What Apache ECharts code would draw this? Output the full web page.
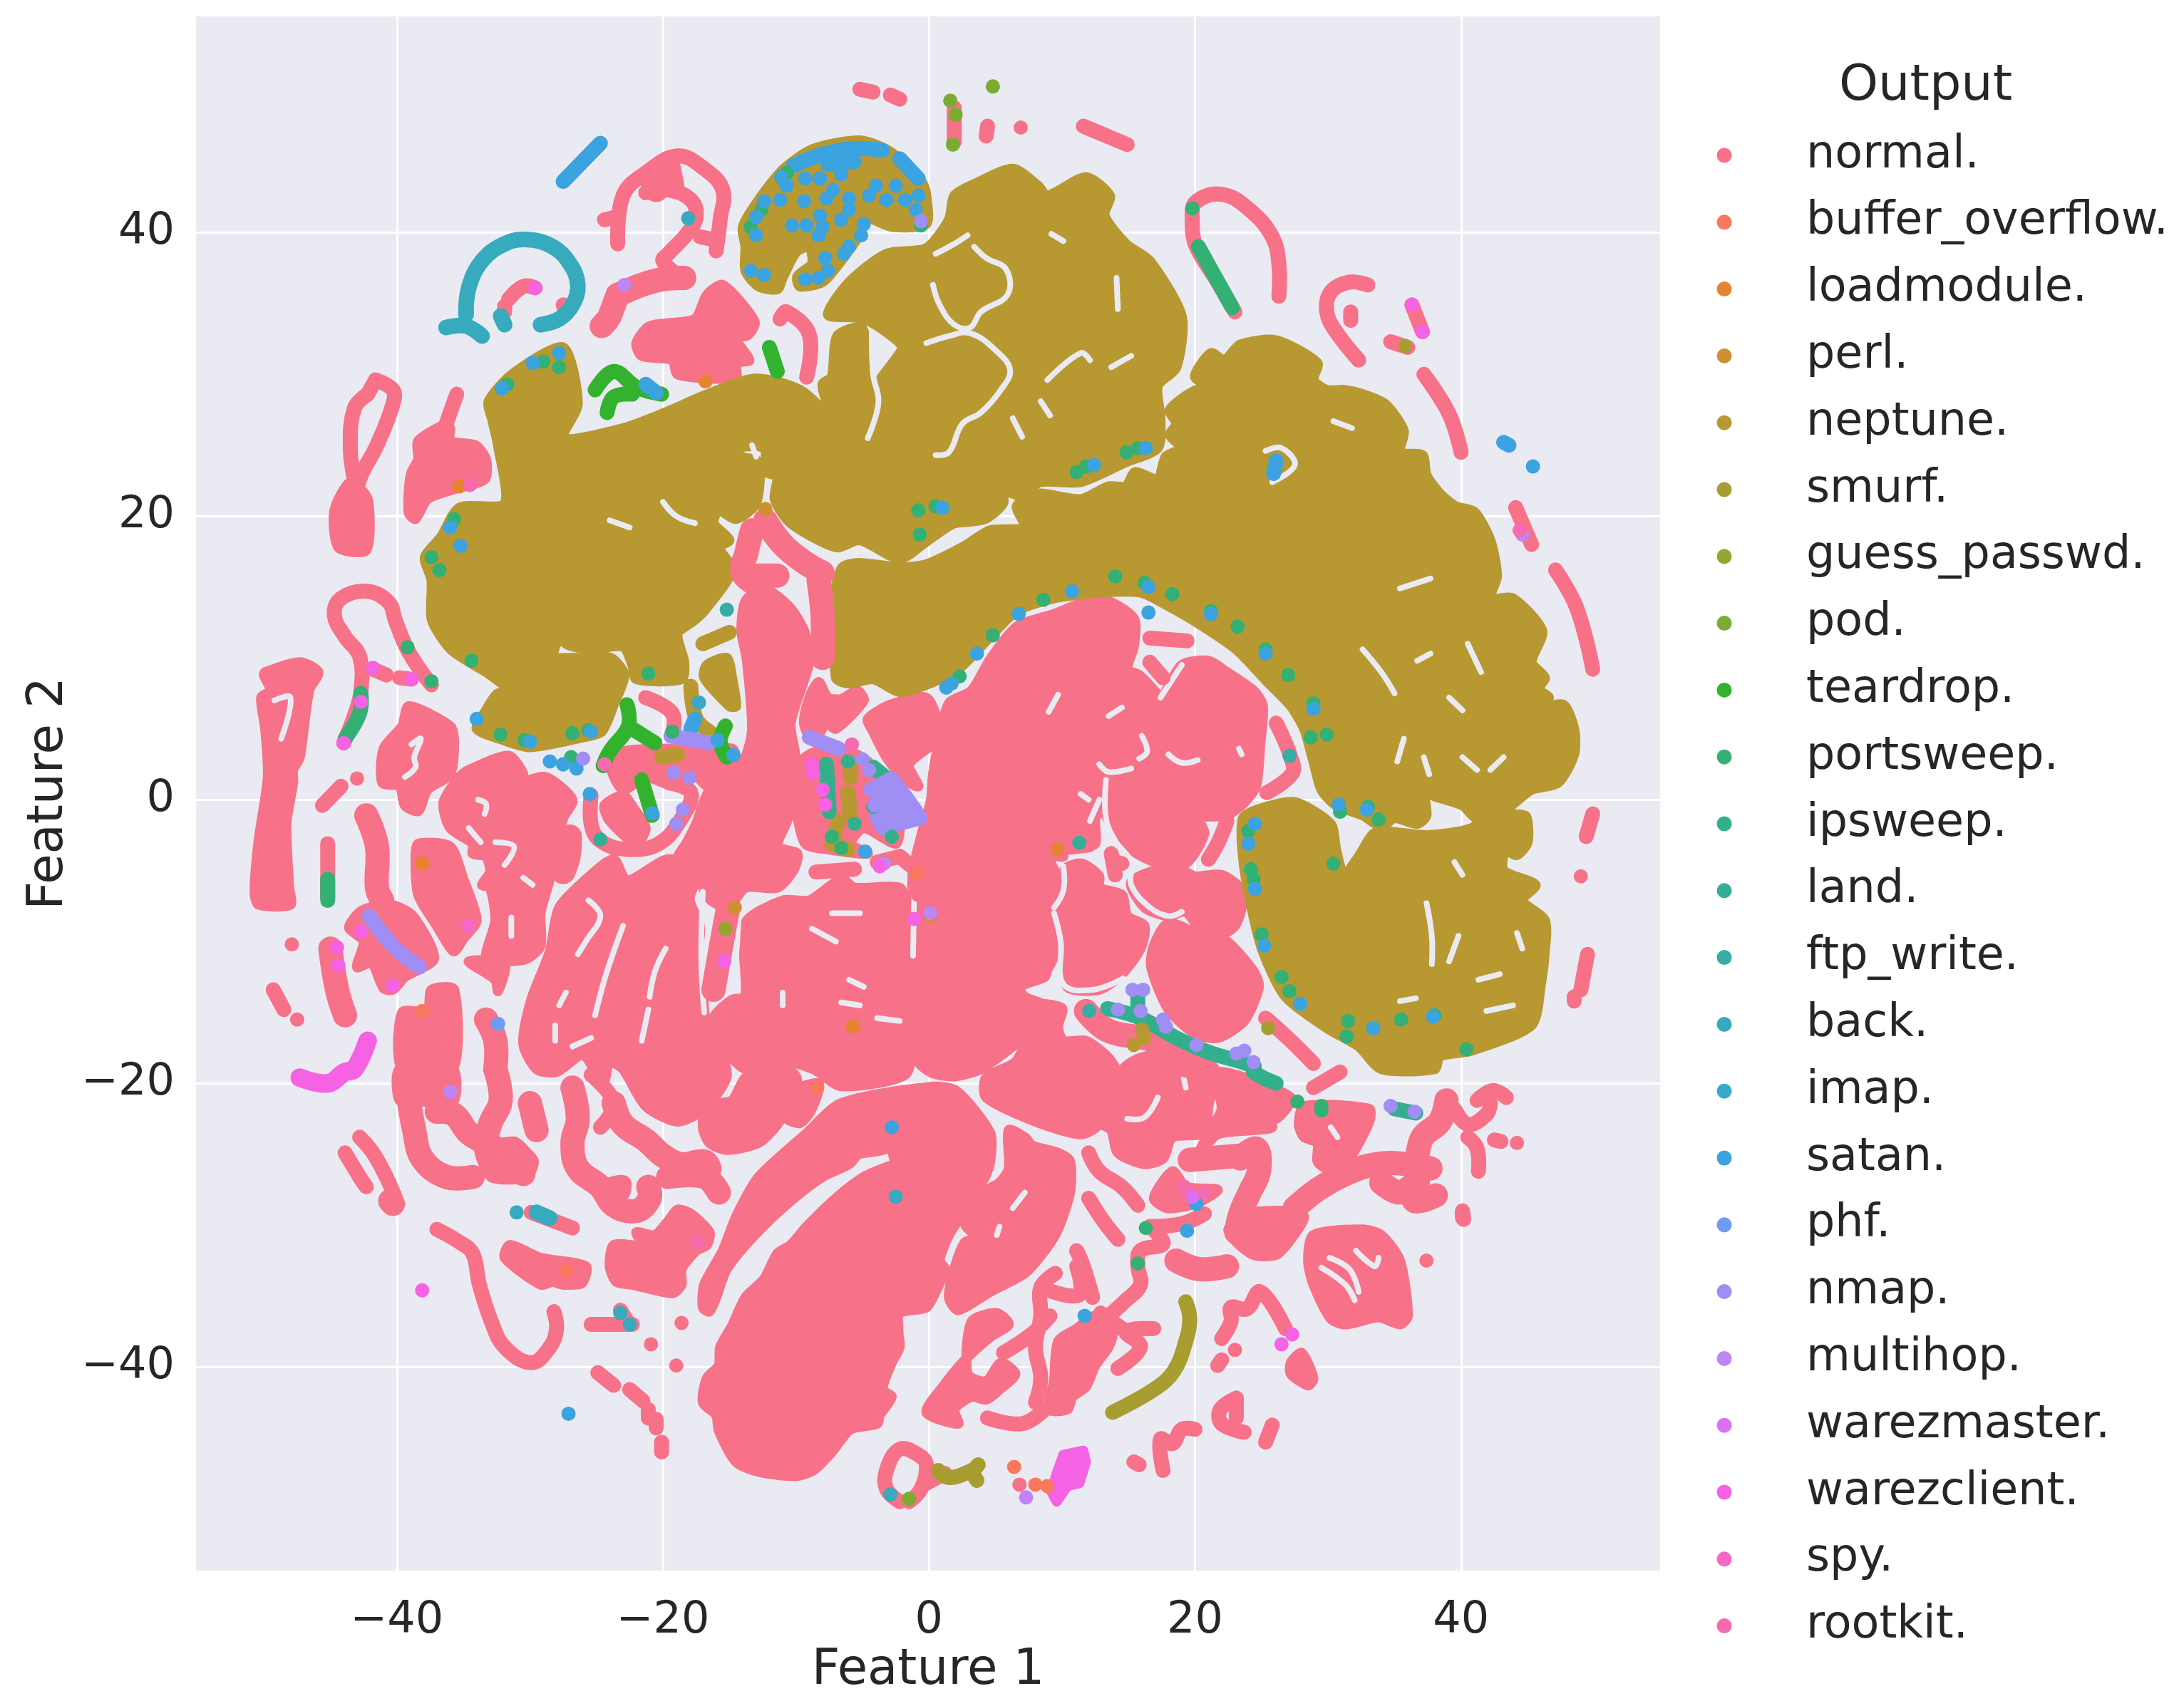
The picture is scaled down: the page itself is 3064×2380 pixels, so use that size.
<!DOCTYPE html>
<html><head><meta charset="utf-8">
<style>html,body{margin:0;padding:0;background:#fff}#c{width:3064px;height:2380px}</style>
<script src="https://cdn.jsdelivr.net/npm/echarts@6/dist/echarts.min.js"></script>
</head><body><div id="c"></div>
<script>
const categories=['normal.','buffer_overflow.','loadmodule.','perl.','neptune.','smurf.','guess_passwd.','pod.','teardrop.','portsweep.','ipsweep.','land.','ftp_write.','back.','imap.','satan.','phf.','nmap.','multihop.','warezmaster.','warezclient.','spy.','rootkit.'];
const palette=['#f77189','#f9775c','#e58432','#ce9032','#b89831','#a89d31','#97a431','#7bab31','#33b22e','#33b074','#34af8c','#35ae99','#36ada4','#38aabd','#3aa8c9','#3ba3e0','#6e9bf4','#a08ef4','#bf85f4','#dc70f4','#f562e3','#f668c8','#f66bb0'];
const xTicks=[-40,-20,0,20,40];
const yTicks=[-40,-20,0,20,40];

// neptune. cluster outlines
const neptuneRegions=[
[[-27.5,31.9],[-31.2,30.1],[-33.1,28.1],[-32.8,26.7],[-32.4,25],[-31.9,20.9],[-35.3,20.6],[-36.7,18.5],[-37.9,17.1],[-37.4,15.5],[-37.4,12.8],[-36.7,11.5],[-35.7,10.4],[-33.3,9],[-30.9,7.6],[-28.8,8.6],[-28,11],[-26.8,11.7],[-27.3,11],[-25.4,10.6],[-23,10.8],[-22.3,9.5],[-22,8.5],[-18.6,8.5],[-18.4,9.7],[-18.9,11.7],[-17.7,12.6],[-16.9,13.3],[-14.8,16.2],[-15.8,17.8],[-15,18.3],[-16.2,19.5],[-15.8,20.4],[-14.5,19.8],[-13,20.9],[-12.8,23.8],[-14.1,24.2],[-14.5,24.8],[-12.4,24.8],[-12.2,23.1],[-11.4,22.8],[-11.6,21.2],[-10.4,19.5],[-7,17.8],[-5.2,18.3],[-2.2,17],[-.2,18.2],[1.9,19.5],[4.2,19.8],[5.6,21],[5,22.5],[2,24],[-3,24],[-5,25],[-7,26.5],[-8.7,25.3],[-6.4,25.3],[-7,26.5],[-9.7,28.9],[-13.1,29.7],[-16.9,28.5],[-19.6,27.4],[-23,26.2],[-27.5,25.5],[-26.4,27.9]],
[[-3.5,21.9],[-4.6,25],[-4.4,28.5],[-2,31.8],[-2.3,32.3],[-4.2,33.6],[-5.4,34],[-7.6,34.2],[-6,36.5],[-3.2,38.5],[-.2,38.9],[1.5,40.9],[1.9,42.6],[3.6,43.5],[6.3,44.5],[8.2,43.3],[8.9,42.6],[11.8,43.9],[13.6,42.6],[13.2,41.2],[14.8,39.2],[16.6,38],[19,34.1],[18.6,30.5],[17.2,29.2],[17.4,26.9],[17.2,24.8],[14.8,23.8],[11.4,22.4],[8.4,22.4],[6.6,21.5],[5,22.2],[5.6,21],[4.2,19.8],[1.9,19.5],[-.2,19],[-2.2,20.5]],
[[-6.9,32.7],[-5.1,33.3],[-4.6,31.7],[-4.6,29.3],[-4,28.1],[-5.1,26.2],[-5.4,25.2],[-6.4,26.4],[-7.6,27.9],[-8,29.3],[-7.3,29.8]],
[[-7,14.9],[-7,8.6],[-6,8.2],[-4.2,8.5],[-2.2,7.6],[-.2,8.1],[2.2,9.2],[4.6,11.5],[6.6,13.3],[9.4,14.2],[12.8,14.6],[15.9,14.6],[17.9,13.7],[20.3,12.4],[23.1,10.6],[25.4,8.35],[27.2,6.6],[28.2,5],[28.9,2.7],[29.5,.7],[30.6,-.4],[32.6,-1.1],[34,-1.9],[35,-1.3],[36.7,-1.7],[37.4,-1.1],[37.2,.7],[37.8,.3],[40.1,-.4],[41.2,-1.3],[43.6,-.5],[45.3,.7],[47.3,1.2],[48.5,3.2],[48.5,5],[47.7,6.7],[46,6.5],[46.6,7.2],[45.8,7.8],[46.3,8.6],[45.3,9.7],[46.1,11.9],[43.9,14.2],[42.2,14.2],[42.7,15.75],[42.2,18.3],[41,20.3],[39.6,20.7],[38.4,21.6],[37.4,22.9],[37.1,24.3],[35.4,24.5],[35.7,26],[34.3,27.9],[32.6,28.6],[31.2,28.9],[29.9,28.9],[28.9,29.6],[29.2,30.8],[26.1,32.4],[23.4,32.1],[22.2,31],[21.2,31.5],[20,29.8],[21.7,28.9],[20.1,28.9],[18.1,27.5],[18.6,26.5],[18.1,25.7],[19,24.8],[17.8,24.2],[17.2,22.6],[15.5,23.1],[14.8,22.1],[13.5,22.1],[11.4,21.2],[8,21.6],[6.6,20.7],[7.2,19.2],[4.6,19],[2.5,17.8],[-.2,16.6],[-2.2,16.4],[-5.3,16.7],[-6.5,16.4]],
[[23.6,-1.3],[25,-.6],[27.5,-.17],[30.2,-1.7],[30.6,-3.5],[31.2,-5.3],[32.3,-4],[33.6,-2.3],[37.4,-2.5],[40.8,-2],[42.5,-.6],[44,-1],[44.9,-1.2],[45,-3],[44.2,-3.9],[43.3,-3.6],[43.2,-5],[45.6,-6],[44.6,-7.1],[46.3,-8.5],[46.3,-10.7],[46,-13],[45.3,-15.9],[40.8,-17.7],[38.4,-18.1],[38,-19],[34,-19],[32.3,-17.4],[29.9,-16.1],[26.8,-13.9],[25.1,-10.7],[24.2,-7.4],[23.6,-4]],
[[-32.4,7.5],[-33.3,6.3],[-34,5],[-32,4.2],[-30,3.7],[-26,4.4],[-24.6,4.8],[-23.7,6.7],[-22.9,8.8],[-23.9,10],[-25.7,10],[-28.9,9.8],[-28.9,8.3],[-30.9,7.4]],
[[-16.7,9.5],[-15.2,10],[-14.8,8.6],[-14.5,6.6],[-15,6.6],[-16.9,8.6]]
];
// narrow empty cracks inside the dense clusters
const clusterCracks=[
[[-4.3,33],[-4.2,30],[-3.8,28],[-4.6,25.5]],
[[.5,38.5],[1.9,39.2],[2.9,39.8]],
[[3.4,39],[4.3,38.2],[5.8,37.4],[5.9,35.6],[3.9,34.4],[3.1,33.3],[1.9,33.5],[.8,34.9],[.3,36.3]],
[[-.2,32.2],[1.5,32.7],[3.1,32.9],[5,31.7],[6.1,30.3],[5.4,28.9],[3.9,27.3],[2.5,26.5],[1.5,24.5],[.5,24.3]],
[[6.3,26.9],[7,25.6]],[[8.4,28.1],[9.1,27.1]],[[8.9,29.6],[11.4,31.5],[12.1,31]],[[13.7,30.5],[15.2,31.3]],[[14.1,36.8],[14.2,34.6]],[[9.2,39.9],[10.1,39.4]],
[[25.3,24.6],[26.5,24.8],[27.5,23.6],[25.8,22.4]],[[30.4,26.7],[31.8,26.2]],
[[32.6,10.6],[34,9],[35,7.5]],[[35.7,4.3],[35.2,2.7]],[[39.1,7.2],[40.1,6.3]],[[40.5,11],[41.5,9]],[[36.7,9.8],[37.7,10.3]],[[35.4,14.9],[37.7,15.6]],[[40.1,3],[41.2,2.1]],[[43.2,3],[42.2,2.1]],[[37.2,3],[37.6,1.8]],
[[37.4,-7.3],[37.8,-9.6],[37.8,-11.6]],[[39.8,-9.6],[39.1,-11.4]],[[41.3,-12.7],[42.9,-12.3]],[[39.5,-4.4],[40.1,-5.3]],[[44.2,-9.4],[44.6,-10.5]],[[41.9,-14.9],[43.9,-14.5]],[[35.4,-14.2],[36.6,-14]],
[[-20,21],[-19,20],[-17.6,19.5]],[[-24,19.7],[-22.5,19.2]],[[-13.3,25],[-13,24.2]],
[[-7.3,-8],[-5.2,-8]],[[-8.8,-9.1],[-7,-10]],[[-6,-12.7],[-4.9,-13.2]],[[-6.6,-14.3],[-5.2,-14.5]],[[-11,-13.6],[-11,-14.5]],[[-3.9,-15.4],[-2.2,-15.6]],
[[-25.6,-7.1],[-24.7,-8.2],[-25.8,-10],[-26.4,-10.9]],[[-23,-8.9],[-23.7,-10.7],[-24.4,-12.7],[-25.1,-15.2]],[[-19.8,-10.5],[-20.6,-12.1],[-21,-13.9]],[[-21.1,-14.8],[-21.6,-17]],[[-27.3,-13.6],[-27.8,-14.5]],[[-28.1,-15.9],[-28.1,-17]],[[-25.4,-16.8],[-26.8,-17.4]],
[[-1.1,-6],[-1.2,-11]],[[-17,-6.5],[-17.1,-9],[-17.1,-12],[-16.9,-15]],[[-14.3,-8],[-14.5,-11],[-14.8,-13.5]],
[[14.9,-22.5],[16.2,-22.4],[17.2,-21]],[[19.1,-19.4],[19.3,-20.3]],[[30.2,-23.1],[30.7,-23.8]],
[[30.1,-32.3],[31.6,-33.1],[32.3,-34.7]],[[29.5,-33],[31.3,-34.2],[32,-35.3]],[[32.1,-31.8],[33.5,-32.9],[33.8,-32.3]],
[[5.3,-30.1],[5.1,-30.7]],[[6.3,-28.8],[7.2,-27.7]],
[[-49.2,7],[-48,7.2],[-48.7,4.3]],[[-38.9,3.9],[-38.2,4.3],[-38.7,3],[-38.6,2.3],[-39.4,1.6]],
[[-33.9,0],[-33.3,-.3],[-33.4,-1]],[[-34.6,-2],[-33.7,-3]],[[-32.6,-3],[-31.2,-3.3],[-31.9,-4.6]],[[-30.5,-5.5],[-29.8,-6]],[[-31.4,-8.3],[-31.4,-9.6]],
[[12.8,2.5],[13.5,1.96],[15.2,2.2]],[[13.3,1.4],[13.3,-1.3],[14,-2.9],[15.2,-4.4],[15.2,-6],[16.6,-7.6],[18,-8.2],[19,-7.9]],
[[12.8,0],[12.1,-1.5]],[[9.4,-8],[9.9,-10],[10.1,-13],[12.3,-13.4],[14.6,-12.6]],[[10.1,-4.7],[10.1,-6.4],[9.4,-7.6]],[[19,9.5],[17.4,7.2]],[[13.5,5.9],[14.5,6.5]],[[9,6.2],[9.7,7.4]],[[11.4,.4],[12,0]],[[23.3,3.6],[23.5,3.2]],[[16,4.5],[16.4,3.4],[15.8,2.9]],[[18,3.2],[19,2.6],[20.2,2.8]]
];
// normal. cluster outlines
const normalRegions=[
[[1.5,6.8],[3.2,7.7],[4.6,9.9],[6.6,12.2],[9.4,13.1],[12.8,14.2],[15.4,12.8],[15.4,10.8],[14.9,9.2],[15.8,8.8],[17.2,7.4],[17.4,7],[19,9.5],[21,9.8],[22.4,9],[24.4,7.7],[25.1,6.6],[24.9,3.9],[24.6,1],[23.7,-.2],[22.4,-1.1],[20.3,-1.3],[20.7,-2.4],[19.3,-4.5],[17,-4.4],[15.2,-3.5],[13.3,-1.1],[13.3,1.4],[14.2,2.1],[12.8,2.5],[13.1,0],[12.5,-1.3],[12.5,-3.1],[11.4,-3.3],[9.7,-3.5],[10.1,-4],[9,-4],[10.1,-6.4],[9.4,-7.6],[9.9,-10],[8.9,-12],[8.7,-12.5],[6.8,-13.2],[7.2,-13.9],[8.4,-14.4],[7.2,-15.2],[7,-16.8],[6.3,-17.4],[3.9,-19],[2,-19.5],[.3,-19.3],[-.8,-18.5],[-1,-17],[-.8,-14],[-1.5,-11],[-1.3,-8],[-1.2,-5],[-.6,-2.6],[.15,0],[.3,1.8],[.8,4.3]],
[[-4.6,5.7],[-2.9,6.7],[-.2,7.2],[.8,5],[.5,4.1],[-1.5,2.5],[-.8,.95],[-1.8,1.4],[-3.2,3],[-4.2,4.8]],
[[10.4,-6.5],[10.2,-4.9],[11.5,-4.5],[12.8,-5.4],[12.8,-6.2],[14.5,-6.7],[14.9,-8.2],[16.2,-8.9],[15.9,-10.5],[14.5,-12.3],[12.8,-13.4],[10.4,-13.2],[10.1,-10.3],[9.7,-8.5]],
[[15.2,-5.8],[18.3,-4.7],[20,-5.4],[22,-5.3],[23.6,-6.5],[23,-8.9],[21,-9.8],[19.3,-7.9],[18,-8.2],[16.2,-7.6]],
[[18,-8.7],[21,-9.8],[22.4,-10],[24.4,-12.1],[24.8,-13.2],[23.7,-15.6],[21.7,-16.8],[20,-16.5],[18,-14.8],[16.7,-11.8],[16.9,-10.3]],
[[7.7,-14.5],[10,-14.7],[9.7,-16],[10.1,-17],[11.8,-17],[13.5,-18.2],[14.3,-19.5],[14.2,-20.5],[12.8,-22.9],[11.4,-23.6],[8,-22.7],[4.3,-21],[4.3,-19.6],[6.5,-18.5],[7.4,-16.7]],
[[15.9,-18.2],[18.5,-17.8],[20,-18.4],[21.3,-19.9],[21,-21.6],[20.7,-23.5],[18.3,-23.8],[17.6,-25.3],[16.2,-25.7],[14.2,-24.9],[13.7,-23.3],[12.8,-22.7],[14.2,-21],[14.6,-19]],
[[21.7,-19.2],[27.2,-21],[26.1,-22.5],[25.3,-22],[25.8,-23.1],[24.4,-23.3],[21.7,-23.6],[20.3,-24.9],[21.3,-23.1],[22,-21.8]],
[[28.2,-21.6],[33.1,-21.8],[33.1,-22.7],[31.9,-24.9],[31.4,-25.3],[29.9,-26],[29.2,-25.5],[29.2,-24.2],[28.2,-23.8],[27.8,-22.9]],
[[23.7,-29.2],[26.8,-29],[28.2,-29.4],[27.2,-31],[26.1,-32.1],[24.4,-32.1],[23.1,-31.2],[22.5,-30.3]],
[[28.9,-30.7],[32.6,-30.3],[34,-30.7],[35.4,-32.5],[36,-36.4],[35.4,-37],[33.8,-36.5],[31.3,-37],[30.2,-36.6],[28.9,-34.2],[28.5,-32.5]],
[[6,-23.3],[7.2,-23.8],[7.8,-24.4],[9.7,-24.9],[10.6,-25.5],[10.6,-27.7],[9.7,-30.3],[8.7,-31.8],[7.2,-33.4],[4.6,-34.7],[2.2,-36],[1.5,-35.1],[1.9,-33.1],[2.7,-31.2],[3.6,-30.9],[2.7,-29.9],[3.7,-27.9],[5.3,-27],[6,-26]],
[[18.3,-26.2],[19.3,-27.3],[21.7,-27.5],[20.7,-28.2],[19.6,-28.6],[17.9,-28.8],[16.9,-28.1]],
[[9.7,-38.2],[11.1,-37.3],[12.5,-36.4],[13.8,-37.5],[13.5,-38.6],[12.5,-39.9],[11.8,-41.4],[10.8,-42.1],[10.4,-43],[9,-43],[9.4,-41]],
[[3.2,-36.8],[5.1,-36.2],[6,-37],[4.6,-37.9],[2.5,-39.7],[1.2,-41.2],[-.2,-43.2],[2.2,-44],[1.9,-43],[3.2,-42.1],[4.3,-42.3],[5.3,-41.6],[6.5,-40.5],[5.4,-39.7],[4.3,-41],[2.9,-40.5]],
[[27.2,-39.7],[28,-39],[28.9,-40.8],[28.5,-41.3],[27.2,-40.5]],
[[-.2,-20.3],[-6.6,-21.4],[-9.3,-23.6],[-12.8,-26.6],[-14.5,-29.4],[-15.5,-31.8],[-16.9,-34.2],[-17,-35.8],[-16.5,-36.1],[-16,-35.1],[-15.2,-33.1],[-13.1,-30.7],[-10.4,-28.3],[-8,-26.6],[-6,-25.7],[-5.3,-25],[-3.2,-24.6],[-2.2,-22.9],[-2.1,-21.5],[-.2,-21]],
[[-.2,-20.3],[2,-20.5],[4.6,-23.5],[4.6,-25.5],[4.1,-26.8],[3.2,-27.5],[2.9,-28.6],[1.5,-30.7],[.8,-32.5],[1.2,-33.1],[.5,-34.7],[-.2,-35.8],[-2.2,-36.2],[-2.3,-37.5],[-2.2,-38.6],[-2.8,-39.7],[-3.5,-41.6],[-2.8,-42.1],[-3.7,-43.4],[-3.9,-44],[-5.9,-44.4],[-7.3,-46],[-8.7,-47.3],[-10,-47.7],[-12.8,-47.4],[-14.5,-46.7],[-15.8,-44.5],[-16,-43.4],[-17,-42.5],[-16.7,-40.8],[-15.8,-39.9],[-15.7,-38.6],[-14.8,-37.1],[-13.8,-35.1],[-12.4,-33.8],[-11.4,-32],[-10.4,-31.4],[-9.2,-30.1],[-7,-28.1],[-4.9,-26.6],[-2.9,-25.8],[-2.5,-25.7],[-2.7,-24.9],[-1.8,-23.3],[-1.6,-21.5]],
[[-13.8,14],[-12.4,14.9],[-10.4,13.5],[-9.3,11.7],[-9,9.7],[-10.4,5.4],[-10,2.5],[-11,1.6],[-10.5,-1],[-11.4,-3.3],[-9.9,-3.8],[-10.2,-5],[-11.4,-6.2],[-13.8,-6.2],[-15.1,-7.6],[-16.5,-7],[-17.5,-5.3],[-18.9,-4.2],[-18.2,-3],[-17.5,-1.7],[-16.5,.7],[-14.8,1.8],[-13.8,3],[-13.3,5],[-13.7,9.9],[-14.1,11.9]],
[[-27.8,-7.6],[-25.4,-5.3],[-23.7,-4.2],[-22.7,-5.7],[-19.6,-4.2],[-17.5,-5.3],[-18,-7],[-17.2,-9],[-17.4,-11],[-17,-13.5],[-16.8,-15.5],[-16,-17],[-15.2,-19.5],[-16.9,-21.8],[-18.9,-22.7],[-21.3,-21.6],[-23,-19],[-24,-18.5],[-24.5,-20],[-26,-18],[-28,-19.2],[-29.5,-19],[-30.5,-17.2],[-29.9,-14.1],[-28.5,-10.7]],
[[-13.8,-8.7],[-11,-7.1],[-9,-7.1],[-6.6,-5.6],[-5.6,-6.2],[-2.2,-6.2],[-1.8,-7.4],[-1.8,-9.8],[-1.5,-11.8],[-1.2,-14],[-1.2,-17],[-1.8,-19.4],[-6.6,-20.2],[-8.7,-19],[-11.5,-18.3],[-13.8,-19],[-15.8,-17],[-16.2,-15.4],[-14.8,-14.1],[-13.8,-13.9]],
[[-16.7,-21.6],[-14.8,-21.2],[-13.8,-19.6],[-11.5,-18.5],[-10,-19.5],[-10,-20.5],[-11.4,-22.9],[-12.8,-24.2],[-15.2,-24.7],[-16.5,-24.2],[-17,-23.1]],
[[-10.8,-20.8],[-8.3,-20],[-8.8,-21.8],[-9.7,-22.8],[-10.8,-22.4]],
[[-39.8,-19],[-35.8,-19],[-35.7,-21.2],[-37.4,-21.4],[-38.4,-21.2],[-39.8,-21.2]],
[[-37.4,-13.4],[-35.7,-13.4],[-35.8,-19],[-39.6,-19],[-39.6,-15],[-37.7,-14.9]],
[[-34.6,-11.4],[-32.6,-12.7],[-32.4,-13.5],[-31.9,-11.6]],
[[-38.4,-3.1],[-36,-3.3],[-35,-5.6],[-34,-8.5],[-35,-9.8],[-35.7,-10.7],[-36.3,-10],[-37,-8.9],[-38.4,-6.7],[-38.6,-4]],
[[-34.6,2.1],[-31.6,3.1],[-30.5,1.8],[-30.9,1.2],[-28.8,1.6],[-26.8,0],[-27.5,-1.3],[-28.1,-4],[-28.5,-5.6],[-29.2,-8],[-29.2,-10.3],[-30.2,-11.2],[-31.6,-11.4],[-33.3,-11.2],[-32.6,-8.5],[-33,-6.2],[-33.6,-6],[-33,-5.1],[-33.3,-4],[-34.3,-3.8],[-34.3,-3.1],[-36,-2],[-36.5,-.2],[-35.3,1.6]],
[[-39.1,6.6],[-36,5.2],[-35.7,4.1],[-36,1.8],[-37.7,.7],[-38.4,-.8],[-39.4,-.4],[-39.8,.95],[-41.1,1.2],[-41,3.6],[-39.6,5.2]],
[[-49.9,9],[-47.3,9.7],[-45.9,9],[-46.6,7.7],[-47.3,3],[-47.8,2.1],[-47.8,1.2],[-48.3,-1.7],[-48.1,-6.2],[-48,-7.4],[-50.4,-7.4],[-50.7,-6.5],[-50.4,-2.9],[-49.7,1.6],[-49.9,5],[-50.2,7.2],[-49.5,7.7],[-50,8.8]],
[[-42.6,-7.8],[-40.5,-7.4],[-38.8,-8.2],[-37.2,-11.2],[-39.4,-12.5],[-40.3,-13.4],[-41,-13.3],[-41.9,-11.5],[-43,-11.8],[-42.5,-10],[-43.6,-9]],
[[-33.3,-24.6],[-31.2,-24.1],[-30.2,-24.9],[-29.7,-25.5],[-30.2,-26.6],[-32.6,-26.7],[-33.3,-25.7]],
[[-31.5,-31.4],[-29.2,-32.3],[-25.8,-32.9],[-26.1,-34.1],[-27.5,-34.2],[-28.3,-34],[-29.2,-34.2],[-31.9,-32.3]],
[[-18.9,-28.9],[-17.9,-29.2],[-16.5,-30.5],[-16.7,-31.4],[-17.5,-31.8],[-18.6,-33.1],[-18.6,-34.2],[-19.3,-34.8],[-22.3,-34.2],[-23.5,-34],[-24,-32.9],[-23.7,-31.4],[-21.6,-31.4],[-22,-30.5],[-20.6,-30.7],[-19.6,-29.7]],
[[-24.4,-.4],[-23,.3],[-22.2,-.6],[-21.3,-2],[-22,-3.1],[-24,-1.5]],
[[-23.9,2.3],[-23,3.4],[-19.6,3.6],[-14.8,3.6],[-14.5,2.5],[-15.2,1.6],[-16.7,1],[-17.5,1.6],[-19.3,1],[-21.3,1.6],[-23,.7]],
[[-8.3,8.3],[-7.6,7.2],[-6.6,7.1],[-5.4,7.7],[-4.9,7],[-7,5],[-7.7,5.4],[-8.7,4.1],[-9.4,5.4],[-9,7.2]],
[[-10.4,1.6],[-9,3.2],[-6.6,3.6],[-4.6,2.7],[-2.9,.5],[-2.2,-1.7],[-2.5,-3.1],[-4.9,-2],[-5.9,-3.1],[-4.6,-3.8],[-7.6,-3.5],[-9.3,-3.1],[-10,-.6]],
[[-22,32.2],[-21,33.4],[-17.6,33.9],[-16.7,35.6],[-15.5,36.3],[-13.1,33.7],[-13.7,32.7],[-14.7,32.7],[-13.5,31],[-14.5,30.8],[-14.5,29.8],[-16.5,29.7],[-18.9,30],[-19.3,31],[-21.6,31.3]],
[[-44.4,17.8],[-42.3,17.6],[-42.2,21.2],[-43.5,22.4],[-44.7,20.4]],
[[-36.3,26.5],[-38.4,25.3],[-38.4,24],[-38.9,23.1],[-39.1,21.9],[-39.1,20.2],[-38.6,19.8],[-37.7,21.2],[-35.7,21.9],[-33.4,22.6],[-33.3,24],[-34.1,25],[-36,25.3],[-36,26.2]]
];
// normal. thin runs of points
const normalRuns=[
[[26.1,5.4],[27.2,3],[27.3,1.85],[25.4,.5]],[[22.4,-1.5],[21.7,-3.1],[21,-4.2]],[[13.7,-3.8],[14,-5.3]],[[14.5,-4.5],[14,-4.4]],[[9.2,-3.5],[12,-3.2]],[[25.3,-15.4],[27.2,-17],[28.9,-18.6]],[[28.9,-20.3],[30.9,-19.2]],
[[16.6,9.7],[17.6,8.6]],[[16.6,11.4],[19.4,11.2]],[[-.8,-5.1],[-2.2,-4]],[[-3.9,-4.4],[-2.2,-4]],
[[42.5,-24],[43,-24.1]],[[39.5,-21.8],[40.5,-22.9],[41.9,-22.2],[42.2,-21.4]],[[41.2,-21.2],[42.4,-20.5],[43.4,-21]],[[40.5,-23.8],[41.2,-24.6],[41.3,-26.2]],[[40.1,-29],[40.2,-29.6]],
[[12,-24.9],[12.8,-26.2],[14.5,-27.3],[15.7,-28.6]],[[12,-28.1],[13.1,-29.7],[14.2,-31]],[[16.6,-30.1],[19,-29.9],[20.7,-29.2]],[[16.6,-30.1],[17.6,-31.3],[15.9,-31.8],[15.7,-32.9],[15.9,-34.2],[14.8,-35.3],[13.5,-36.4]],
[[11.1,-31.8],[11.6,-32.9],[12.3,-35.1]],[[9.5,-33.4],[8.4,-34.4],[8.4,-36.4],[8,-38.6],[8.4,-40.8],[8,-42.5]],[[11.1,-32.9],[11.3,-34.9],[9,-34.6]],[[5.6,-39],[7.7,-37.7],[9.1,-36.4]],[[4.4,-43.6],[7,-44],[8.7,-43]],[[16.9,-37.3],[14.8,-37.5],[15.9,-38.6],[14.2,-40.1]],[[12.9,-36.2],[14.8,-37.5]],
[[22,-38],[22.7,-36.8],[22.7,-35.8],[23.9,-35.9],[24.9,-34.7],[26.8,-37.3]],[[21.7,-39.9],[22,-39.5]],[[23.1,-42.2],[21.9,-43],[22,-44],[23.7,-44.6]],[[25.8,-44.1],[25.3,-45.3]],[[20,-44.4],[19,-44.4],[18.3,-45.4],[17.4,-45.1],[17.6,-47.3]],[[15.4,-46.7],[15.8,-46.9]],[[23.1,-42.2],[23.1,-43.6]],
[[-2.2,-49.5],[-3.2,-48.6],[-3.2,-47.3],[-2.2,-45.8],[-.8,-46.2],[-.2,-46.9],[-.6,-48.6],[-1.5,-49.5]],[[-.2,-48.2],[1.2,-47.5]],
[[-36.3,-20.6],[-37,-22],[-35.7,-22.2]],[[-25.4,-19.4],[-23.7,-21.4],[-24.7,-23.1]],[[-24.4,-27.3],[-23,-27],[-23,-27.7]],
[[-37,-30.3],[-35.3,-31.2],[-34.3,-32],[-33.8,-34.2],[-32.9,-36.8],[-31.9,-38.6],[-29.9,-39.7],[-28.5,-38.6],[-28,-37.3],[-28.2,-36.1]],
[[-42.8,-23.8],[-41.8,-24.9],[-40.8,-26.6],[-40.1,-28.1]],[[-43.9,-24.9],[-42.8,-26.6],[-42.3,-27.3]],
[[-24.9,-40.4],[-23.7,-41.3]],[[-22.5,-41.6],[-21.5,-42.4]],[[-21.1,-43],[-21.1,-43.6]],[[-20.5,-43.7],[-20.5,-44.3]],[[-20.1,-45.3],[-20.1,-46]],[[-25.4,-37],[-22.3,-37]],[[-23.2,-36],[-22.6,-36.9]],
[[-29.9,-29.1],[-26.8,-30.2]],[[-45.6,-.4],[-44.2,.95]],[[-45.2,-3.1],[-45.2,-6.9]],[[-49.3,-13.4],[-48.5,-14.8]],
[[-25.4,.3],[-25.4,-1.7],[-24.7,-2.9],[-22.7,-3.5],[-20.3,-3.1],[-18.6,-1.3],[-17.9,.5],[-19.6,1.2]],[[-21.3,7.2],[-19.3,6.1],[-19.3,4.5]],
[[-8.5,-5.1],[-5.6,-4.9]],[[-.8,-6.1],[-.8,-6.7]],
[[-24.4,40.9],[-23.5,41.1]],[[-23.4,39.2],[-23,42.6],[-21.3,44.2],[-18.9,45.4],[-16.9,44.5],[-15.5,43],[-15.7,40.9],[-16,38.7]],[[-21.3,42.8],[-19.6,43],[-17.9,42.3],[-17.5,41.1],[-18.2,39.9],[-19.6,38.5],[-20,38],[-18.9,37]],[[-17.2,39.7],[-16.2,39.5]],
[[-11.2,33.9],[-10.7,34.4],[-9,32.8],[-9.2,29.8]],[[-5.2,50.1],[-4.2,49.9]],[[-2.9,49.7],[-2.2,49.4]],
[[-41.6,29.6],[-40.3,28.9],[-40.3,27.9],[-41.5,25],[-42.8,22.6],[-43.5,19.7]],[[-42.2,28.6],[-43.2,27.6],[-43.5,24.8],[-43.2,22.6]],[[-41.6,29.6],[-42.2,28.6]],[[-35.5,28.6],[-36.3,26.5]],
[[-44,4],[-43.2,5.9],[-42.7,7.7],[-42.8,10.1],[-43.9,11.5],[-44.7,13],[-44.2,14.2],[-42.2,14.7],[-40.6,13.9],[-40.1,12.6],[-39.1,10.4],[-37.4,8.1]],[[-41.8,9.2],[-40.8,8.8]],[[-39.8,8.6],[-38.9,8.5]],
[[-31.6,35.3],[-30.5,36.2],[-29.6,36.1]],[[-31.9,34.4],[-31.9,34.8]],[[-27.5,34.9],[-27.3,34.4]],
[[1.9,48.8],[1.9,46.4]],[[4.4,47.5],[4.3,46.8]],[[11.6,47.5],[14.9,46.2]],[[19.8,40.9],[20,42.1],[22,42.7],[24.1,41.6],[25.8,39.7],[26.3,37.8],[26.3,35.5]],[[19.8,40.9],[20,39.2],[21.7,36.5],[23,34.4]],
[[33,36.3],[31.6,36.5],[30.2,35.8],[29.9,34.4],[30.6,33],[32.3,31]],[[31.7,34.4],[31.7,33.8]],[[36.3,34.9],[37.1,33]],[[34.7,32.3],[36,31.9]],[[37.2,30],[39.1,27.2],[40,24.5]],[[44.1,20.6],[45.3,18]],[[47.1,16.2],[48.7,13.5],[49.9,9.2]],[[49.9,-1],[49.4,-2.6]],[[49.5,-10.9],[49,-13.4]],[[48.5,-13.9],[48.5,-14.2]],[[40.1,-29],[40.1,-29.5]]
];
// normal. thick runs of points
const normalBands=[
[[11.8,-14.9],[13.5,-16.3],[16.9,-17],[20.3,-18.8]],[[15.5,-19.4],[18,-18.6],[21,-19.2]],
[[19.6,-25.4],[23.4,-25.1]],[[23.4,-25.3],[24.6,-24.6],[24.8,-26.2],[24.1,-27.7],[23.4,-29.2],[23.1,-30.5]],[[27.5,-28.8],[29.2,-27.5],[31.3,-26.4],[33.6,-25.7],[36,-25.7],[37.7,-26]],[[34,-27],[35.4,-27.7],[36.7,-27],[36.5,-28.3],[38.1,-27.9]],[[36.7,-25.3],[37.1,-23.8],[38.4,-22.7],[38.9,-21.2]],[[18.6,-32.5],[20.3,-33.1],[22.4,-32.9]],
[[-39.1,-21.2],[-38.7,-23.3],[-38.1,-25.3],[-36.3,-26.6],[-34.3,-26.6]],[[-37,-22],[-35.7,-22.2],[-34.6,-23.5],[-32.9,-24.4],[-31.2,-25.3],[-30.5,-26.4]],[[-32.6,-19],[-32.2,-21.2],[-33,-22.9],[-33.3,-24.6],[-32.6,-26.2]],[[-30,-21.4],[-29.5,-23.3]],
[[-26.8,-20.3],[-26.4,-22.5],[-26.8,-24.2],[-26.4,-26],[-24.7,-27.3],[-23.7,-28.6],[-22,-29],[-21,-28.1],[-21.1,-27.3]],[[-23.7,-21.4],[-23,-22.9],[-21.3,-24],[-20,-25.1],[-18.6,-25.7],[-16.9,-25.5],[-16.5,-26]],[[-19.6,-26.6],[-16.9,-26.6],[-15.8,-27.7]],
[[-33.3,-15.5],[-32.6,-17],[-32.6,-19]],[[-27,-2.6],[-27.1,-4],[-27.5,-5.1]],[[-42.3,-1.1],[-41.5,-3.3],[-41.5,-6.2],[-41.1,-7.1]],[[-45,-10.5],[-44.5,-13.4],[-43.9,-15.2]],[[-40.5,-28.3],[-40.3,-28.5]],
[[-15.1,-7.6],[-15.7,-10.7],[-16.2,-13.4]],[[-12.3,19.7],[-11,18],[-9.3,16.7],[-8,16]],[[-8.3,15.5],[-8,13],[-8,10]],[[-13.3,19],[-13.7,17.5],[-14,16],[-13,15.2]],[[-11.4,15.8],[-12.8,15.8]],[[-12.8,-5.6],[-11,-4]],
[[-23.4,35.6],[-20.6,36.6],[-18.4,36.8]],[[-24,34.1],[-23.4,35.6]],[[-24.2,33.8],[-24.6,33.4]],[[-19.6,44.7],[-19.3,43.3]],[[-21,44],[-20.5,43]]
];
// normal. isolated points
const normalPoints=[[-43,1.5],[-47.9,-10.2],[-47.5,-15.5],[-18.6,-36.9],[-20.9,-38.4],[-19,-39.9],[6.9,47.4],[31.7,34.1],[49,-5.4],[37.4,-32.5],[44.2,-24.2],[23,-38.8],[6.8,-48.3]];
const buffer_overflow=[[-38.1,-14.9],[-.9,-5.2],[-8.4,-20.3],[-27.3,-33.2],[6.4,-47.05],[8,-48.3],[8.9,-48.4]];
const loadmodule=[[-16.8,29.5],[-35.3,22.1],[-38.1,-4.5],[-5.7,-16],[9.65,-3.5],[.1,-8.2]];
const perl=[[-12.3,20.5],[-14.6,-7.6]];
const neptunePoints=[[16,-16.2],[16.2,-16.8],[15.4,-17.3]];
const neptuneRuns=[[[-17,11],[-15,11.8]],[[-17.9,8],[-17.5,5.7],[-16.5,4.8]],[[-20.1,3],[-18.9,3.2]],[[-5.9,2.3],[-5.9,1.6]],[[-6.1,.5],[-5.9,-1.1]],[[-6.8,-1.5],[-7.3,-3.1]],[[-7.3,-3.1],[-6.1,-3.5]]];
const smurfRuns=[[[13.8,-43.2],[16.9,-41.6],[18.4,-40.3],[19.3,-38.2],[19.6,-36.6],[19.3,-35.4]],[[.7,-47.3],[1.5,-47.8],[3.2,-47.3],[3.7,-46.9]],[[3.2,-47.4],[3.6,-48]]];
const smurf=[[35.8,32],[25.5,-16.1]];
const guess_passwd=[[-15.3,-9.1]];
const pod=[[4.8,50.3],[1.6,49.3],[2,48.3],[1.8,46.2],[-1.5,-49.3]];
const teardropRuns=[[[-22.7,6.7],[-22.6,5.2],[-24,3.4],[-24.5,2.4]],[[-22.3,5],[-20.6,4]],[[-15.3,5.2],[-15.7,4.1],[-15.2,3]],[[-21.6,1.4],[-20.8,-1.1]],[[-25.1,28.9],[-23.7,30.2],[-22,29.1],[-20.1,28.6]],[[-24.2,27.3],[-23.7,28.4],[-22.3,28.6]],[[-12,31.9],[-11.4,30.2]]];
const portsweepRuns=[[[-42.7,7.5],[-42.8,6.1],[-43.9,4.3]],[[-45.2,-5.6],[-45.2,-7.1]],[[20.25,39],[22.8,34.7]]];
const portsweep=[[2.3,8.7],[4.8,11.6],[8.6,14.1],[14,15.75],[16.2,15.3],[18.3,14.5],[21.2,13.3],[23.2,12.2],[25.3,10.6],[27,8.8],[28.9,6.8],[28.7,4.4],[29.9,4.6],[30.9,-.85],[33,-.5],[33.8,-1.4],[30.4,-4.5],[24,-2.2],[24.2,-4.9],[24.4,-5.6],[25,-9.5],[26.5,-12.5],[27.1,-13.5],[31.5,-15.6],[31.4,-16.7],[35.5,-15.5],[38,-15.2],[40.4,-17.6],[11.1,23.1],[11.8,23.5],[14.85,24.5],[15.7,24.8],[.5,20.7],[-.8,20.4],[-.7,18.7],[-37.4,17.1],[-36.8,16.2],[-35.7,19.8],[-31.7,29.3],[-29,30.9],[-27.8,30.5],[-39.2,10.75],[-37.4,8.35],[-34.4,9.8],[-21.1,8.9],[-32.2,4.6],[-30.4,4.2],[-26.8,4.7],[-25.6,4.9],[-27.5,2.5],[-26.9,3],[-19.3,4.8],[-7.3,-2.6],[-6.6,-3.4],[16.3,-30.2],[15.7,-32.7],[27.7,-21.3],[29.5,-21.9],[29.5,-21.6],[19.8,41.7],[-10.7,44.2],[-12.6,41.6],[-13.4,40.4],[-.6,40.5]];
const ipsweepRuns=[[[13.5,-14.75],[15.9,-15.4],[18.6,-16.8],[21,-17.8],[24.4,-18.8],[24.4,-19.2],[26.1,-20]],[[15.7,-13.8],[15.7,-14.6]],[[35,-21.8],[36.6,-22.1]],[[-7.7,2.5],[-7.5,-.85]],[[-4.2,2.3],[-2.5,1]],[[-.8,-1.3],[-1.2,-1]]];
const ipsweep=[[-2.8,-2.6],[-6.1,2.7],[-5.6,-1.7],[-4.2,-.5]];
const land=[[13.4,-14.7],[-17.3,6.85],[-24.7,-2.8],[11.3,-3.04]];
const ftp_write=[[-15.2,13.4],[27.1,3.1],[12.05,-14.9]];
const backRuns=[[[-36.3,33.3],[-34.8,33.4],[-33.6,32.7]],[[-34.8,34.2],[-34.6,36.1],[-33.6,38],[-31.9,39.2],[-30.2,39.5],[-28.3,39],[-27,37.8],[-26.4,36.3],[-26.8,34.9],[-27.8,33.9],[-29.2,33.5]],[[-32.2,34.1],[-31.9,33.5]],[[-29.5,-29.1],[-28.5,-29.5]]];
const back=[[-18.1,41],[-31,-29.1],[-2.5,-28],[-23.2,-36.2],[-22.5,-37],[-2.9,-49]];
const imap=[[-17.3,6.85]];
const satanRuns=[[[-24.7,46.3],[-27.5,43.6]],[[-10.2,44.7],[-8.4,45.4],[-6,45.9],[-3.5,45.8]],[[-2.2,45.2],[-.8,43.8]],[[-7.6,44.8],[-5.6,45]],[[-21.3,29.3],[-20.5,28.7]],[[-17.6,5.7],[-17.9,5]],[[43.2,25.2],[43.6,25]],[[26.1,23.9],[25.9,23]]];
const satan=[[1.3,7.9],[1.7,8.2],[3.6,10.3],[6.75,13.1],[10.75,14.7],[16.5,15],[16.5,13.2],[21.2,13.1],[25.3,10.3],[28.9,6.4],[30.8,-.35],[32.9,-.7],[24.5,-1.7],[24,-3.1],[24.5,-6.3],[25.2,-10.3],[27.9,-14.4],[33.4,-16.1],[37.9,-15.3],[45.4,23.5],[12.4,23.6],[16.3,24.8],[1,20.6],[-36,19.2],[-35.2,17.9],[-32.1,29],[-29.8,30.8],[-27.8,31.5],[-34,5.7],[-30,4.1],[-25.4,4.8],[-28.5,2.7],[-27.5,2.5],[-26.5,2.2],[-25.5,.4],[-20.8,-.96],[-14.7,3.15],[-15.9,4.2],[-4.8,-3.65],[19.4,-30.4],[11.7,-36.4],[20.1,-28.5],[-2.8,-23.1],[-27.1,-43.3],
[-11.1,43.9],[-10.7,43.3],[-9.3,43.8],[-8.2,43.8],[-12.4,42.2],[-11.2,42.3],[-9.4,42.2],[-13,41.1],[-13,39.8],[-10.3,40.5],[-9.2,40.5],[-8.2,41.2],[-8,40.4],[-8.3,39.8],[-7.2,43],[-7.7,42.4],[-6,42.4],[-4,43.3],[-4.5,42.6],[-2.5,43.3],[-3.2,42.3],[-1.8,42.3],[-.8,42.6],[-1,41.6],[-6.6,40.9],[-6,41.6],[-4.9,40.6],[-5.1,39.8],[-6,39],[-7.8,38.2],[-6.4,38.5],[-7.6,37.3],[-9.3,36.7],[-8.3,36.8],[-13.4,37.3],[-12.4,37],[-6.6,44.1]];
const phf=[[-32.4,-15.8]];
const nmapRuns=[[[-19.4,4.5],[-16.5,4]],[[-9,4.4],[-6.8,3.6]],[[-42.1,-8.2],[-40.1,-10.5],[-38.3,-11.8]]];
const nmapRegions=[[[-4.4,.7],[-2.8,1.5],[-1.8,.3],[-.6,-1.3],[-3.5,-2],[-4,-1.1],[-2.8,-.2]]];
const nmap=[[-26,2.9],[-19.2,1.9],[-18,1.55],[-18.5,-.7],[-19,-1.7],[-5,2.85],[-4.5,2.1],[-4.1,-.4],[34.7,-21.6],[36.5,-22],[15.3,-13.4],[16.1,-13.4],[14.2,-14.8],[15.9,-14.9],[17.6,-15.5],[17.8,-16],[20.1,-17.3],[23.1,-17.9],[23.7,-17.7],[24.4,-18.5],[-.6,40.8]];
const multihop=[[-22.9,36.3],[44.6,18.7],[-3.4,-4.5],[-36,-20.6],[7.3,-49.2],[.1,-8]];
const warezmaster=[[19.8,-28]];
const warezclient=[[-29.6,36.1],[36.3,34.9],[37.1,33],[-41.8,9.3],[-38.9,8.5],[-42.7,6.9],[-44,4],[-8.8,2.5],[-8.7,1.85],[-8,.7],[-7.8,-.35],[-3.7,-4.7],[-42.7,-9.3],[-44.5,-10.4],[-44.4,-11.7],[-40.3,-13.1],[-15.4,-11.4],[-1.1,-8.4],[-38.1,-34.6],[27.3,-37.7],[26.5,-38.4]];
const warezRuns=[[[-42.2,-17],[-43.2,-19],[-43.9,-19.2],[-45.2,-20],[-47.3,-19.6]]];
const warezRegions=[[[10.1,-46.2],[11.6,-45.9],[11.8,-46.7],[11.3,-48.2],[10.4,-48.4],[9.6,-49.5],[9.2,-48.8],[9.6,-47.5]]];
const spy=[[-34.6,-8.9]];
const rootkit=[[-34.5,22.2],[44.4,19],[-5.8,3.9],[-24.4,2.5],[-17.4,-31.2],[19.2,-27.3],[20.7,-27.7]];
const capRegion=[[[-14,40.4],[-12.8,42.3],[-10.9,44.5],[-8.7,45.9],[-5.2,46.5],[-2.9,45.7],[-.5,43.5],[-.2,42.6],[-.2,40.6],[-2.8,40.4],[-4.9,41.1],[-5.2,39.9],[-6.6,38],[-8,36.5],[-9.7,36.2],[-9.9,36.9],[-8.8,37.8],[-9,39],[-10,38.6],[-11,36.8],[-11.4,36],[-12.8,36.2],[-13.8,37.3],[-13.8,39]]];

const pointsByClass={'normal.':normalPoints,'buffer_overflow.':buffer_overflow,'loadmodule.':loadmodule,'perl.':perl,'neptune.':neptunePoints,'smurf.':smurf,'guess_passwd.':guess_passwd,'pod.':pod,'teardrop.':[],'portsweep.':portsweep,'ipsweep.':ipsweep,'land.':land,'ftp_write.':ftp_write,'back.':back,'imap.':imap,'satan.':satan,'phf.':phf,'nmap.':nmap,'multihop.':multihop,'warezmaster.':warezmaster,'warezclient.':warezclient,'spy.':spy,'rootkit.':rootkit};
const BG='#eaeaf2', C=n=>palette[categories.indexOf(n)];
function shapes(id,list,closed,color,width,z,smooth){
  return {id,name:id,type:'custom',coordinateSystem:'cartesian2d',z,silent:true,animation:false,clip:true,
    data:list.map((s,i)=>[s[0][0],s[0][1],i]),
    renderItem(p,api){
      const pts=list[api.value(2)].map(v=>api.coord(v));
      return {type:closed?'polygon':'polyline',shape:{points:pts,smooth:smooth},
        style:{fill:closed?color:'none',stroke:color,lineWidth:width,lineJoin:'round',lineCap:'round'}};
    }};
}
const series=[
 shapes('normal regions',normalRegions,true,C('normal.'),14,2,0.25),
 shapes('neptune regions',neptuneRegions.concat(capRegion),true,C('neptune.'),14,2,0.25),
 shapes('cracks',clusterCracks,false,BG,8,3,0.4),
 shapes('normal bands',normalBands,false,C('normal.'),34,4,0.4),
 shapes('normal runs',normalRuns,false,C('normal.'),21,4,0.4),
 shapes('neptune runs',neptuneRuns,false,C('neptune.'),21,5,0.4),
 shapes('smurf runs',smurfRuns,false,C('smurf.'),21,5,0.4),
 shapes('teardrop runs',teardropRuns,false,C('teardrop.'),21,5,0.4),
 shapes('portsweep runs',portsweepRuns,false,C('portsweep.'),21,5,0.4),
 shapes('ipsweep runs',ipsweepRuns,false,C('ipsweep.'),21,5,0.4),
 shapes('back runs',backRuns,false,C('back.'),22,5,0.4),
 shapes('satan runs',satanRuns,false,C('satan.'),21,5,0.4),
 shapes('nmap runs',nmapRuns,false,C('nmap.'),21,6,0.4),
 shapes('nmap regions',nmapRegions,true,C('nmap.'),20,6,0),
 shapes('warez runs',warezRuns,false,C('warezclient.'),26,5,0.4),
 shapes('warez regions',warezRegions,true,C('warezclient.'),14,5,0)
].concat(categories.map((c,i)=>({name:c,type:'scatter',symbol:'circle',symbolSize:20,z:7,silent:true,animation:false,
  itemStyle:{color:palette[i],opacity:1},data:pointsByClass[c]})));

const chart=echarts.init(document.getElementById('c'));
const minus=v=>String(v).replace('-','\u2212');
const axisCommon={type:'value',axisLine:{show:false},
  splitLine:{show:true,lineStyle:{color:'#ffffff',width:3}},
  nameLocation:'middle',nameTextStyle:{color:'#262626',fontFamily:'DejaVu Sans',fontSize:69}};
const labels=t=>({customValues:t,formatter:minus,color:'#262626',fontFamily:'DejaVu Sans',fontSize:62,margin:30,padding:[10,0,0,0]});
chart.setOption({
  animation:false,backgroundColor:'#ffffff',
  title:{text:'Output',left:2575,top:82,textStyle:{color:'#262626',fontFamily:'DejaVu Sans',fontSize:70,fontWeight:'normal'}},
  grid:{left:275,top:23,width:2054,height:2181,backgroundColor:BG,show:true,borderWidth:0,outerBoundsMode:'none'},
  xAxis:Object.assign({},axisCommon,{min:-55.1,max:54.96,name:'Feature 1',nameGap:104,axisTick:{show:false,customValues:xTicks},axisLabel:labels(xTicks)}),
  yAxis:Object.assign({},axisCommon,{min:-54.36,max:55.24,name:'Feature 2',nameGap:170,axisTick:{show:false,customValues:yTicks},axisLabel:labels(yTicks)}),
  legend:{orient:'vertical',right:17,top:181,itemWidth:220,itemHeight:21,itemGap:29.8,icon:'circle',selectedMode:false,
    data:categories,textStyle:{color:'#262626',fontFamily:'DejaVu Sans',fontSize:63.5,lineHeight:60}},
  series
});
</script></body></html>
